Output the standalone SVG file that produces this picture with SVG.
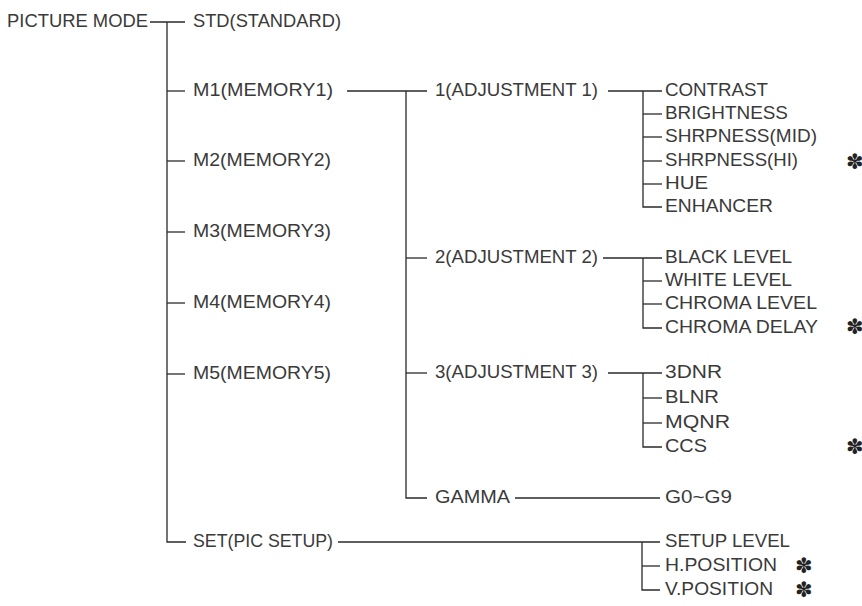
<svg xmlns="http://www.w3.org/2000/svg" width="862" height="606" viewBox="0 0 862 606">
<style>
text{font-family:"Liberation Sans",Arial,sans-serif;font-size:18.5px;fill:#3a3a3a}
.ast{font-family:"DejaVu Sans",sans-serif;font-size:21px;fill:#222}
.c line,.c path{stroke:#2a2a2a;stroke-width:1.3;fill:none}
</style>
<rect width="862" height="606" fill="#fff"/>
<g class="c" id="connectors">
<line x1="150" y1="22" x2="185" y2="22"/>
<path d="M167 22V542H186"/>
<line x1="167" y1="91" x2="185" y2="91"/>
<line x1="167" y1="161" x2="185" y2="161"/>
<line x1="167" y1="232" x2="185" y2="232"/>
<line x1="167" y1="303" x2="185" y2="303"/>
<line x1="167" y1="374" x2="185" y2="374"/>
<line x1="347" y1="91" x2="427" y2="91"/>
<path d="M406 91V498H427"/>
<line x1="406" y1="258" x2="427" y2="258"/>
<line x1="406" y1="373" x2="427" y2="373"/>
<line x1="608" y1="91" x2="662" y2="91"/>
<path d="M643 91V207H662"/>
<line x1="643" y1="114" x2="662" y2="114"/>
<line x1="643" y1="137" x2="662" y2="137"/>
<line x1="643" y1="161" x2="662" y2="161"/>
<line x1="643" y1="184" x2="662" y2="184"/>
<line x1="603" y1="258" x2="662" y2="258"/>
<path d="M643 258V328H662"/>
<line x1="643" y1="281" x2="662" y2="281"/>
<line x1="643" y1="304" x2="662" y2="304"/>
<line x1="608" y1="373" x2="662" y2="373"/>
<path d="M643 373V447H662"/>
<line x1="643" y1="398" x2="662" y2="398"/>
<line x1="643" y1="423" x2="662" y2="423"/>
<line x1="515" y1="498" x2="660" y2="498"/>
<line x1="338" y1="542" x2="660" y2="542"/>
<path d="M642 542V590H660"/>
<line x1="642" y1="566" x2="660" y2="566"/>
</g>
<g id="picture-mode"><text x="7" y="27" textLength="141" lengthAdjust="spacingAndGlyphs">PICTURE MODE</text></g>
<g id="std"><text x="193" y="27" textLength="148" lengthAdjust="spacingAndGlyphs">STD(STANDARD)</text></g>
<g id="m1"><text x="193" y="96" textLength="140" lengthAdjust="spacingAndGlyphs">M1(MEMORY1)</text></g>
<g id="m2"><text x="193" y="166" textLength="138" lengthAdjust="spacingAndGlyphs">M2(MEMORY2)</text></g>
<g id="m3"><text x="193" y="237" textLength="138" lengthAdjust="spacingAndGlyphs">M3(MEMORY3)</text></g>
<g id="m4"><text x="193" y="308" textLength="138" lengthAdjust="spacingAndGlyphs">M4(MEMORY4)</text></g>
<g id="m5"><text x="193" y="379" textLength="138" lengthAdjust="spacingAndGlyphs">M5(MEMORY5)</text></g>
<g id="set"><text x="193" y="547" textLength="140" lengthAdjust="spacingAndGlyphs">SET(PIC SETUP)</text></g>
<g id="adj1"><text x="435" y="96" textLength="163" lengthAdjust="spacingAndGlyphs">1(ADJUSTMENT 1)</text></g>
<g id="adj2"><text x="435" y="263" textLength="163" lengthAdjust="spacingAndGlyphs">2(ADJUSTMENT 2)</text></g>
<g id="adj3"><text x="435" y="378" textLength="163" lengthAdjust="spacingAndGlyphs">3(ADJUSTMENT 3)</text></g>
<g id="gamma"><text x="435" y="503" textLength="75" lengthAdjust="spacingAndGlyphs">GAMMA</text></g>
<g id="contrast"><text x="665" y="96" textLength="103" lengthAdjust="spacingAndGlyphs">CONTRAST</text></g>
<g id="brightness"><text x="665" y="119" textLength="123" lengthAdjust="spacingAndGlyphs">BRIGHTNESS</text></g>
<g id="sharp-mid"><text x="665" y="142" textLength="152" lengthAdjust="spacingAndGlyphs">SHRPNESS(MID)</text></g>
<g id="sharp-hi"><text x="665" y="166" textLength="133" lengthAdjust="spacingAndGlyphs">SHRPNESS(HI)</text><text class="ast" x="846" y="169">✽</text></g>
<g id="hue"><text x="665" y="189" textLength="43" lengthAdjust="spacingAndGlyphs">HUE</text></g>
<g id="enhancer"><text x="665" y="212" textLength="108" lengthAdjust="spacingAndGlyphs">ENHANCER</text></g>
<g id="black"><text x="665" y="263" textLength="127" lengthAdjust="spacingAndGlyphs">BLACK LEVEL</text></g>
<g id="white"><text x="665" y="286" textLength="127" lengthAdjust="spacingAndGlyphs">WHITE LEVEL</text></g>
<g id="chroma-level"><text x="665" y="309" textLength="152" lengthAdjust="spacingAndGlyphs">CHROMA LEVEL</text></g>
<g id="chroma-delay"><text x="665" y="333" textLength="153" lengthAdjust="spacingAndGlyphs">CHROMA DELAY</text><text class="ast" x="846" y="334">✽</text></g>
<g id="dnr"><text x="665" y="378" textLength="57" lengthAdjust="spacingAndGlyphs">3DNR</text></g>
<g id="blnr"><text x="665" y="403" textLength="54" lengthAdjust="spacingAndGlyphs">BLNR</text></g>
<g id="mqnr"><text x="665" y="428" textLength="65" lengthAdjust="spacingAndGlyphs">MQNR</text></g>
<g id="ccs"><text x="665" y="452" textLength="42" lengthAdjust="spacingAndGlyphs">CCS</text><text class="ast" x="846" y="454">✽</text></g>
<g id="g0g9"><text x="665" y="503" textLength="67" lengthAdjust="spacingAndGlyphs">G0~G9</text></g>
<g id="setup-level"><text x="665" y="547" textLength="125" lengthAdjust="spacingAndGlyphs">SETUP LEVEL</text></g>
<g id="hpos"><text x="665" y="571" textLength="112" lengthAdjust="spacingAndGlyphs">H.POSITION</text><text class="ast" x="795" y="573">✽</text></g>
<g id="vpos"><text x="665" y="595" textLength="108" lengthAdjust="spacingAndGlyphs">V.POSITION</text><text class="ast" x="795" y="597">✽</text></g>
</svg>
